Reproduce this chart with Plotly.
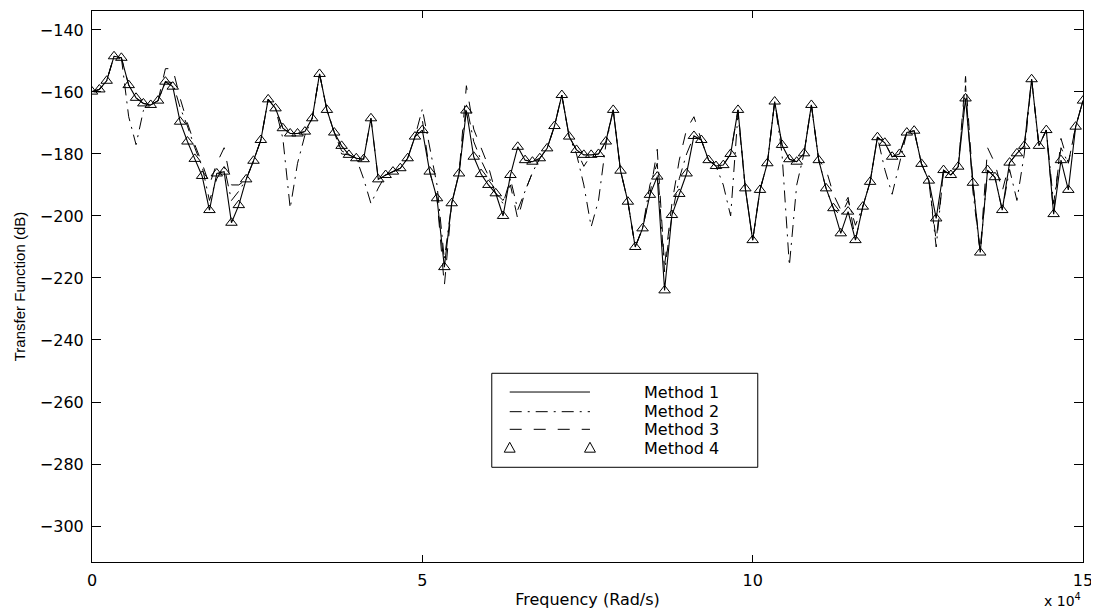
import numpy as np
import plotly.graph_objects as go

# Frequency grid (x 10^4 rad/s): 136 evenly spaced samples from 0 to 15
n_points = 136
freq = np.arange(n_points) * (15.0 / (n_points - 1))

method1 = [
    -159.9, -159.2, -156.4, -148.5, -149.0, -157.8, -161.9, -163.7, -164.2, -162.8,
    -156.7, -158.3, -169.6, -176.0, -181.6, -187.1, -198.1, -186.3, -185.7, -202.2,
    -196.5, -188.2, -182.2, -175.5, -162.4, -165.3, -171.7, -173.4, -173.4, -172.8,
    -168.5, -154.2, -165.8, -173.1, -177.4, -180.3, -181.4, -181.7, -168.5, -188.2,
    -186.8, -185.7, -184.6, -181.4, -174.4, -172.3, -185.7, -194.3, -216.5, -195.9,
    -186.3, -166.0, -180.9, -186.5, -190.0, -192.7, -200.0, -186.8, -177.7, -182.0,
    -182.5, -181.4, -178.2, -171.0, -161.0, -174.4, -178.7, -180.3, -180.3, -180.0,
    -176.0, -165.8, -185.4, -195.4, -210.0, -204.0, -193.2, -187.3, -224.0, -199.7,
    -192.9, -186.3, -174.2, -175.5, -182.0, -183.9, -183.6, -180.0, -165.8, -191.1,
    -207.8, -191.6, -183.0, -163.1, -177.1, -181.7, -182.5, -179.8, -164.2, -182.0,
    -191.1, -197.5, -205.6, -198.6, -207.8, -197.0, -189.0, -174.6, -176.4, -180.9,
    -180.0, -173.1, -172.5, -183.2, -188.6, -200.8, -185.2, -186.8, -184.1, -162.1,
    -189.3, -211.8, -185.2, -187.5, -198.1, -182.8, -179.8, -177.4, -155.9, -177.4,
    -172.3, -199.4, -182.0, -191.6, -171.2, -162.8,
]

method2 = [
    -159.9, -159.2, -156.4, -148.5, -149.0, -168.0, -177.0, -166.0, -164.2, -162.8,
    -156.7, -157.0, -165.0, -171.0, -178.0, -184.0, -195.0, -188.0, -184.0, -195.0,
    -192.0, -188.2, -182.2, -175.5, -162.4, -165.3, -175.0, -197.5, -183.0, -174.0,
    -168.5, -154.2, -165.8, -173.1, -180.0, -180.3, -181.4, -188.0, -196.0, -191.0,
    -186.8, -185.7, -184.6, -181.4, -174.4, -165.5, -178.0, -190.0, -214.0, -195.9,
    -186.3, -164.0, -176.0, -182.0, -187.0, -192.7, -196.0, -188.0, -198.0, -192.0,
    -186.0, -181.4, -178.2, -171.0, -161.0, -174.4, -180.0, -190.0, -203.5, -195.0,
    -177.0, -165.8, -185.4, -195.4, -210.0, -204.0, -190.0, -183.0, -218.0, -199.7,
    -188.0, -180.0, -174.2, -175.5, -182.0, -183.9, -190.0, -200.0, -167.0, -191.1,
    -207.8, -191.6, -183.0, -163.1, -180.0, -216.0, -190.0, -179.8, -164.2, -182.0,
    -191.1, -197.5, -200.0, -195.0, -203.0, -197.0, -189.0, -174.6, -185.0, -193.0,
    -183.0, -173.1, -172.5, -183.2, -188.6, -210.0, -185.2, -186.8, -184.1, -158.0,
    -192.0, -211.8, -185.2, -187.5, -198.1, -185.0, -195.0, -180.0, -155.9, -177.4,
    -172.3, -196.0, -178.0, -183.0, -171.2, -162.8,
]

method3 = [
    -159.9, -159.2, -156.4, -148.5, -149.0, -157.8, -161.9, -163.7, -164.2, -162.8,
    -152.5, -152.5, -162.0, -170.0, -177.0, -183.0, -190.0, -183.0, -178.0, -190.0,
    -190.0, -188.2, -182.2, -175.5, -162.4, -165.3, -171.7, -173.4, -173.4, -172.8,
    -168.5, -154.2, -165.8, -173.1, -179.0, -180.3, -181.4, -181.7, -168.5, -188.2,
    -186.8, -185.7, -184.6, -181.4, -174.4, -169.0, -185.7, -194.3, -222.5, -195.9,
    -186.3, -158.0, -172.0, -178.0, -184.0, -192.7, -195.0, -190.0, -201.0, -192.0,
    -186.0, -181.4, -178.2, -171.0, -161.0, -174.4, -178.7, -184.0, -180.3, -180.0,
    -176.0, -165.8, -185.4, -195.4, -210.0, -204.0, -193.2, -178.5, -216.0, -196.0,
    -182.0, -172.0, -168.0, -175.5, -182.0, -183.9, -183.6, -180.0, -165.8, -191.1,
    -207.8, -191.6, -183.0, -163.1, -177.1, -181.7, -182.5, -179.8, -164.2, -182.0,
    -185.0, -193.0, -198.0, -194.0, -207.8, -197.0, -189.0, -174.6, -176.4, -180.9,
    -180.0, -173.1, -172.5, -183.2, -188.6, -208.0, -185.2, -186.8, -184.1, -155.0,
    -189.3, -211.8, -178.0, -183.0, -192.0, -182.8, -179.8, -177.4, -155.9, -177.4,
    -172.3, -199.4, -175.0, -183.0, -171.2, -162.8,
]

method4 = method1  # triangles sit on the Method 1 points

series_names = ["Method 1", "Method 2", "Method 3", "Method 4"]
x_ticks = [0, 5, 10, 15]
y_ticks = [-300, -280, -260, -240, -220, -200, -180, -160, -140]

DASHDOT = "12px,6px,2px,6px"
DASHED = "12px,12px"

fig = go.Figure()
fig.add_trace(go.Scatter(x=freq, y=method2, mode="lines", name=series_names[1],
                         line=dict(color="black", width=1, dash=DASHDOT)))
fig.add_trace(go.Scatter(x=freq, y=method3, mode="lines", name=series_names[2],
                         line=dict(color="black", width=1, dash=DASHED)))
fig.add_trace(go.Scatter(x=freq, y=method1, mode="lines", name=series_names[0],
                         line=dict(color="black", width=1.1)))
fig.add_trace(go.Scatter(x=freq, y=method4, mode="markers", name=series_names[3],
                         marker=dict(symbol="triangle-up-open", size=10,
                                     color="black", line=dict(width=1, color="black"))))

# ---- custom legend box (paper coordinates) ----
bx0, bx1, by0, by1 = 0.4034, 0.6718, 0.1719, 0.3425
sx0, sx1 = 0.4215, 0.5025
rows = [0.3085, 0.2728, 0.2408, 0.2063]
text_x = 0.5548
shapes = [dict(type="rect", xref="paper", yref="paper", x0=bx0, x1=bx1, y0=by0, y1=by1,
               line=dict(color="black", width=1), fillcolor="white", layer="above")]
shapes.append(dict(type="line", xref="paper", yref="paper", x0=sx0, x1=sx1, y0=rows[0], y1=rows[0],
                   line=dict(color="black", width=1), layer="above"))
shapes.append(dict(type="line", xref="paper", yref="paper", x0=sx0, x1=sx1, y0=rows[1], y1=rows[1],
                   line=dict(color="black", width=1, dash=DASHDOT), layer="above"))
shapes.append(dict(type="line", xref="paper", yref="paper", x0=sx0, x1=sx1, y0=rows[2], y1=rows[2],
                   line=dict(color="black", width=1, dash=DASHED), layer="above"))
hw, hb, ht = 0.0055, 0.0070, 0.0110
for cx in (sx0, sx1):
    cy = rows[3]
    path = f"M {cx-hw},{cy-hb} L {cx+hw},{cy-hb} L {cx},{cy+ht} Z"
    shapes.append(dict(type="path", xref="paper", yref="paper", path=path,
                       line=dict(color="black", width=1), layer="above"))

annotations = []
for name, ry in zip(series_names, rows):
    annotations.append(dict(xref="paper", yref="paper", x=text_x, y=ry, text=name,
                            xanchor="left", yanchor="middle", showarrow=False,
                            font=dict(family="DejaVu Sans", size=16, color="black")))
annotations.append(dict(xref="paper", yref="paper", x=1.0, y=-0.069, text="x 10<sup>4</sup>",
                        xanchor="right", yanchor="middle", showarrow=False,
                        font=dict(family="DejaVu Sans", size=14, color="black")))

# The page body has an 8px margin; the figure is sized/offset so that the
# plot area lands at x 92..1083, y 11..562 of the window.
fig.update_layout(
    width=1091, height=604,
    margin=dict(l=84, r=16, t=3, b=50),
    paper_bgcolor="white", plot_bgcolor="white",
    showlegend=False,
    shapes=shapes, annotations=annotations,
    xaxis=dict(range=[0, 15], tickvals=x_ticks, ticktext=[str(v) for v in x_ticks],
               ticks="inside", ticklen=7, tickcolor="black", tickwidth=1,
               showline=True, linecolor="black", linewidth=1, mirror="ticks",
               showgrid=False, zeroline=False, ticklabelstandoff=4,
               tickfont=dict(family="DejaVu Sans", size=16, color="black"),
               title=dict(text="Frequency (Rad/s)", standoff=4,
                          font=dict(family="DejaVu Sans", size=16, color="black"))),
    yaxis=dict(range=[-311.6, -133.9], tickvals=y_ticks,
               ticks="inside", ticklen=9, tickcolor="black", tickwidth=1,
               showline=True, linecolor="black", linewidth=1, mirror="ticks",
               showgrid=False, zeroline=False, ticklabelstandoff=4,
               tickfont=dict(family="DejaVu Sans", size=16, color="black"),
               title=dict(text="Transfer Function (dB)", standoff=10,
                          font=dict(family="Liberation Sans", size=15, color="black"))),
)

fig.write_html("out.html")
